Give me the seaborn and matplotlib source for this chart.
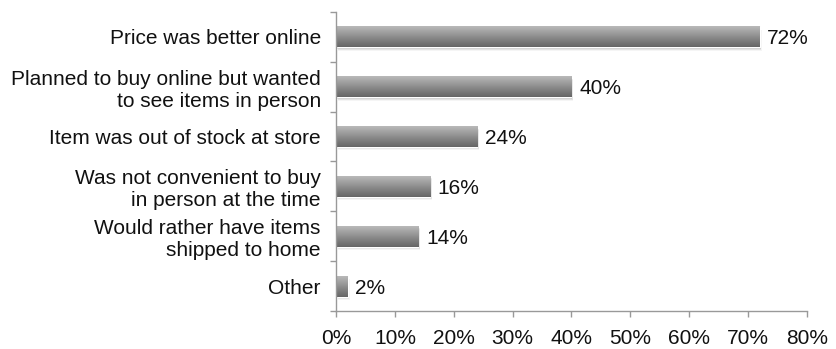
import numpy as np
import pandas as pd
import matplotlib
matplotlib.use("Agg")
import matplotlib.pyplot as plt
import seaborn as sns
from matplotlib.ticker import FuncFormatter

categories = [
    "Price was better online",
    "Planned to buy online but wanted\nto see items in person",
    "Item was out of stock at store",
    "Was not convenient to buy\nin person at the time",
    "Would rather have items\nshipped to home",
    "Other",
]
percentages = [72, 40, 24, 16, 14, 2]
x_ticks = [0, 10, 20, 30, 40, 50, 60, 70, 80]

sns.set_theme(style="white")
plt.rcParams["font.family"] = ["Liberation Sans", "DejaVu Sans"]

df = pd.DataFrame({"reason": categories, "pct": percentages})

fig = plt.figure(figsize=(8.36, 3.49), dpi=100)
ax = fig.add_axes([0.402, 0.109, 0.563, 0.857])

sns.barplot(data=df, x="pct", y="reason", color="#8a8a8a", width=0.42,
            ax=ax, orient="h")

# vertical gradient shading on each bar (light top, dark bottom) with a soft shadow
grad = np.linspace(0, 1, 256).reshape(-1, 1)
cmap = matplotlib.colors.LinearSegmentedColormap.from_list(
    "bar", ["#bababa", "#9c9c9c", "#808080", "#666666"])
for i, patch in enumerate(list(ax.patches)):
    x0, y0 = patch.get_x(), patch.get_y()
    w, h = patch.get_width(), patch.get_height()
    for k, a in enumerate([0.10, 0.07, 0.04]):
        shadow = matplotlib.patches.Rectangle(
            (x0 + 0.15 + 0.1 * k, y0 + 0.03 + 0.02 * k), w, h,
            color="#000000", alpha=a, lw=0, zorder=1)
        ax.add_patch(shadow)
    im = ax.imshow(grad, extent=[x0, x0 + w, y0 + h, y0], cmap=cmap,
                   aspect="auto", zorder=2, interpolation="bilinear")
    im.set_clip_path(patch)
    patch.set_zorder(2)
    ax.text(x0 + w + 1.3, y0 + h / 2 + 0.04, f"{percentages[i]}%",
            va="center", ha="left", fontsize=15, color="#111111")

ax.set_xlim(0, 80)
ax.set_ylim(5.5, -0.5)
ax.set_xticks(x_ticks)
ax.xaxis.set_major_formatter(FuncFormatter(lambda v, p: f"{v:.0f}%"))
ax.set_yticks(np.arange(len(categories)))
ax.set_yticklabels(categories, fontsize=15, color="#111111")
ax.tick_params(axis="x", labelsize=15, colors="#111111", length=4,
               width=1, color="#999999", bottom=True, pad=9)
ax.tick_params(axis="y", length=0, pad=11)
for t in ax.get_xticklabels():
    t.set_color("#111111")

# minor ticks at category boundaries on the y axis
ax.set_yticks(np.arange(-0.5, len(categories), 1), minor=True)
ax.tick_params(axis="y", which="minor", length=4, width=1, color="#999999", left=True)

ax.set_xlabel("")
ax.set_ylabel("")
for side in ["top", "right"]:
    ax.spines[side].set_visible(False)
for side in ["left", "bottom"]:
    ax.spines[side].set_color("#999999")
    ax.spines[side].set_linewidth(1)

fig.savefig("out.png", dpi=100)
